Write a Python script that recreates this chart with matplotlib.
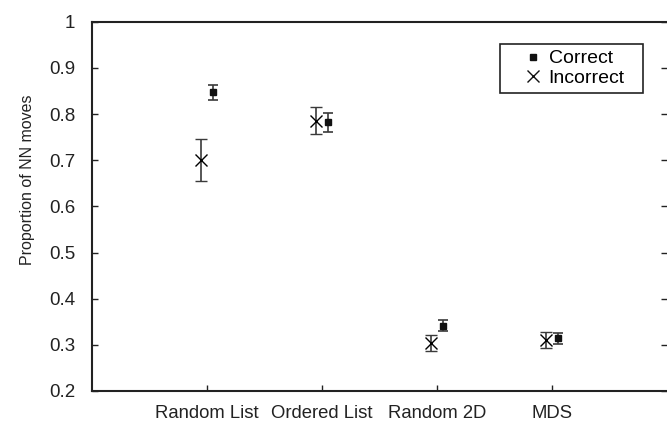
import matplotlib
matplotlib.use("Agg")
import matplotlib.pyplot as plt
from matplotlib.lines import Line2D
import numpy as np

categories = ["Random List", "Ordered List", "Random 2D", "MDS"]
correct_mean = [0.847, 0.782, 0.341, 0.314]
correct_err = [0.017, 0.021, 0.012, 0.012]
incorrect_mean = [0.700, 0.786, 0.304, 0.310]
incorrect_err = [0.045, 0.030, 0.017, 0.017]

plt.rcParams['font.family'] = ['Liberation Sans', 'DejaVu Sans']

fig = plt.figure(figsize=(6.67, 4.21), dpi=100)
ax = fig.add_axes([0.138, 0.0713, 0.862, 0.877])

x = np.arange(1, len(categories) + 1)
off = 0.05
ec = '#3a3a3a'

ax.errorbar(x - off, incorrect_mean, yerr=incorrect_err, fmt='x', color='black',
            ecolor=ec, elinewidth=1.2, capsize=4, capthick=1.2, markersize=9,
            markeredgewidth=1.0, zorder=3)
ax.errorbar(x + off, correct_mean, yerr=correct_err, fmt='s', color='#111111',
            ecolor=ec, elinewidth=1.2, capsize=3.5, capthick=1.2, markersize=4.5,
            zorder=3)

ax.set_xlim(0, 5)
ax.set_ylim(0.2, 1.0)
ax.set_xticks(x)
ax.set_xticklabels(categories)
ax.set_yticks(np.arange(0.2, 1.01, 0.1))
ax.set_yticklabels(['0.2', '0.3', '0.4', '0.5', '0.6', '0.7', '0.8', '0.9', '1'])

for s in ['left', 'top', 'bottom']:
    ax.spines[s].set_linewidth(1.5)
    ax.spines[s].set_color('#222222')
ax.spines['right'].set_visible(False)

ax.tick_params(axis='y', direction='in', length=4, width=1, left=True, right=True,
               labelsize=13.5, pad=12, colors='#222222')
ax.tick_params(axis='x', direction='in', length=4, width=1, bottom=True, top=False,
               labelsize=13.3, pad=10, colors='#222222')

ax.set_ylabel('Proportion of NN moves', fontsize=11.5, color='#222222')
ax.yaxis.set_label_coords(-0.100, 0.572)

h_corr = Line2D([], [], linestyle='none', marker='s', markersize=4, color='#111111')
h_inc = Line2D([], [], linestyle='none', marker='x', markersize=8, color='#111111',
               markeredgewidth=1.0)
leg = ax.legend([h_corr, h_inc], ['Correct', 'Incorrect'],
                loc='upper left', bbox_to_anchor=(0.7096, 0.8076, 0.2487, 0.1324),
                mode='expand', borderaxespad=0,
                fontsize=14, fancybox=False, framealpha=1, edgecolor='#222222',
                handlelength=2.75, handletextpad=-0.55, labelspacing=0.1,
                borderpad=0.3)
leg.get_frame().set_linewidth(1.2)

fig.savefig('out.png', dpi=100)
